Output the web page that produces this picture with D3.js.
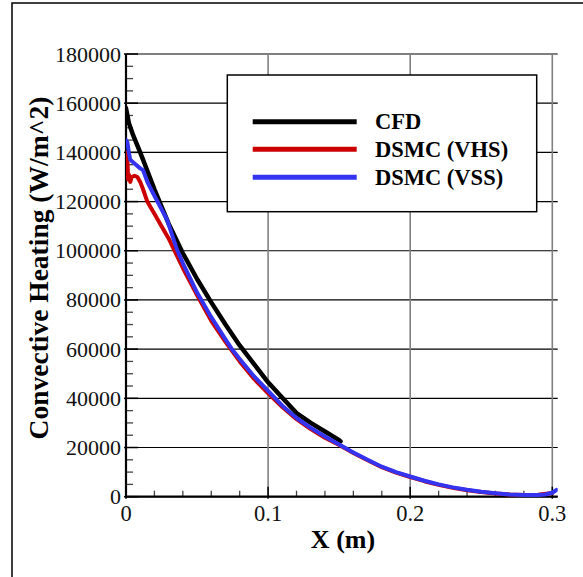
<!DOCTYPE html>
<html>
<head>
<meta charset="utf-8">
<script src="https://cdn.jsdelivr.net/npm/d3@7"></script>
<style>
  html, body { margin: 0; padding: 0; background: #fff; }
  svg { display: block; }
</style>
</head>
<body>
<svg id="chart" width="583" height="577"></svg>
<script>
// Convective heating along the surface: CFD vs. DSMC (VHS / VSS models)
const cfdX = [0, 0.002, 0.005, 0.01, 0.02, 0.03, 0.04, 0.05, 0.06, 0.07, 0.08, 0.09, 0.1, 0.11, 0.12, 0.13, 0.14, 0.15, 0.151];
const cfdQ = [158000, 152000, 147000, 140000, 125000, 111000, 99000, 88500, 79000, 70000, 61500, 54000, 46500, 40200, 34000, 30000, 26500, 23000, 22500];

const vhsX = [0, 0.0005, 0.001, 0.0015, 0.002, 0.003, 0.004, 0.006, 0.008, 0.01, 0.012, 0.015, 0.018, 0.02, 0.025, 0.03, 0.035, 0.04, 0.05, 0.06, 0.07, 0.08, 0.09, 0.1, 0.11, 0.12, 0.13, 0.14, 0.15, 0.16, 0.17, 0.18, 0.19, 0.2, 0.21, 0.22, 0.23, 0.24, 0.25, 0.26, 0.27, 0.28, 0.29, 0.3];
const vhsQ = [140000, 133000, 137000, 129000, 131000, 128000, 130000, 130500, 130000, 128000, 125000, 120000, 117000, 115000, 110000, 105000, 99000, 93000, 82000, 71500, 63000, 55000, 48000, 42000, 36500, 31500, 27500, 24000, 21000, 17800, 14800, 12000, 9800, 8000, 6300, 4800, 3600, 2600, 1900, 1300, 900, 700, 800, 1500];

const vssX = [0, 0.001, 0.002, 0.003, 0.006, 0.01, 0.012, 0.015, 0.019, 0.029, 0.036, 0.04, 0.05, 0.06, 0.07, 0.075, 0.08, 0.09, 0.1, 0.11, 0.12, 0.13, 0.14, 0.15, 0.16, 0.17, 0.18, 0.19, 0.2, 0.21, 0.22, 0.23, 0.24, 0.25, 0.26, 0.27, 0.28, 0.29, 0.295, 0.3, 0.303];
const vssQ = [145000, 144000, 140000, 137000, 135500, 133500, 132800, 128000, 123400, 112500, 100300, 95000, 83000, 73000, 64000, 59600, 56000, 49000, 43000, 37000, 32000, 28000, 24500, 21200, 18000, 15000, 12200, 10000, 8200, 6500, 5000, 3800, 2800, 2000, 1400, 900, 700, 700, 900, 1600, 2800];

const seriesNames = ["CFD", "DSMC (VHS)", "DSMC (VSS)"];
const seriesColors = ["#000000", "#cc0000", "#3333f0"];

const yMajorTicks = [0, 20000, 40000, 60000, 80000, 100000, 120000, 140000, 160000, 180000];
const xMajorTicks = [0, 0.1, 0.2, 0.3];
const xTickLabels = ["0", "0.1", "0.2", "0.3"];

const xTitle = "X (m)";
const yTitle = "Convective Heating (W/m^2)";

const svg = d3.select("#chart");
const serif = "'Liberation Serif', 'Times New Roman', serif";

const x = d3.scaleLinear().domain([0, 0.3038]).range([126, 557.7]);
const y = d3.scaleLinear().domain([0, 180000]).range([496.7, 54]);

// outer frame (left and top edges)
svg.append("path")
  .attr("d", "M12,577 L12,3 L583,3")
  .attr("fill", "none").attr("stroke", "#000").attr("stroke-width", 1.5);

// horizontal grid lines at major heat-flux ticks
svg.append("g").selectAll("line").data(yMajorTicks).join("line")
  .attr("x1", x.range()[0]).attr("x2", x.range()[1])
  .attr("y1", d => y(d)).attr("y2", d => y(d))
  .attr("stroke", "#000").attr("stroke-width", 1.2);

// vertical grid lines
svg.append("g").selectAll("line").data(xMajorTicks.filter(d => d > 0)).join("line")
  .attr("x1", d => x(d)).attr("x2", d => x(d))
  .attr("y1", y(0)).attr("y2", y(180000))
  .attr("stroke", "#808080").attr("stroke-width", 1.6);

// minor ticks on the Y axis (every 5000, pointing inward)
const yMinor = d3.range(0, 180001, 5000).filter(v => v % 20000 !== 0);
svg.append("g").selectAll("line").data(yMinor).join("line")
  .attr("x1", x(0)).attr("x2", x(0) + 7)
  .attr("y1", d => y(d)).attr("y2", d => y(d))
  .attr("stroke", "#444").attr("stroke-width", 1.3);
svg.append("g").selectAll("line").data(yMajorTicks).join("line")
  .attr("x1", x(0) - 2).attr("x2", x(0) + 12)
  .attr("y1", d => y(d)).attr("y2", d => y(d))
  .attr("stroke", "#000").attr("stroke-width", 1.5);

// minor ticks on the X axis (every 0.02, pointing up)
const xMinor = d3.range(1, 15).map(i => i * 0.02).filter(v => Math.abs(v * 10 - Math.round(v * 10)) > 1e-6);
svg.append("g").selectAll("line").data(xMinor).join("line")
  .attr("x1", d => x(d)).attr("x2", d => x(d))
  .attr("y1", y(0)).attr("y2", y(0) - 6)
  .attr("stroke", "#444").attr("stroke-width", 1.3);
svg.append("g").selectAll("line").data(xMajorTicks).join("line")
  .attr("x1", d => x(d)).attr("x2", d => x(d))
  .attr("y1", y(0) + 2).attr("y2", y(0) - 10)
  .attr("stroke", "#000").attr("stroke-width", 1.5);

// axis lines
svg.append("line").attr("x1", x(0)).attr("x2", x(0)).attr("y1", y(0) + 1).attr("y2", y(180000))
  .attr("stroke", "#000").attr("stroke-width", 2.2);
svg.append("line").attr("x1", x(0) - 1).attr("x2", x.range()[1]).attr("y1", y(0)).attr("y2", y(0))
  .attr("stroke", "#000").attr("stroke-width", 2.2);

// tick labels
svg.append("g").selectAll("text").data(yMajorTicks).join("text")
  .attr("x", x(0) - 5).attr("y", d => y(d) + 7.5)
  .attr("text-anchor", "end")
  .attr("font-family", serif).attr("font-size", 22).attr("fill", "#111")
  .text(d => String(d));
svg.append("g").selectAll("text").data(xMajorTicks).join("text")
  .attr("x", d => x(d)).attr("y", 521)
  .attr("text-anchor", "middle")
  .attr("font-family", serif).attr("font-size", 22.5).attr("fill", "#111")
  .text((d, i) => xTickLabels[i]);

// axis titles
svg.append("text")
  .attr("x", 343).attr("y", 548)
  .attr("text-anchor", "middle")
  .attr("font-family", serif).attr("font-weight", "bold").attr("font-size", 26)
  .text(xTitle);
svg.append("text")
  .attr("transform", "translate(48,268) rotate(-90)")
  .attr("text-anchor", "middle")
  .attr("font-family", serif).attr("font-weight", "bold").attr("font-size", 27.5)
  .text(yTitle);

// data curves
const series = [
  { xs: cfdX, qs: cfdQ },
  { xs: vhsX, qs: vhsQ },
  { xs: vssX, qs: vssQ }
];
const line = d3.line().x(d => x(d[0])).y(d => y(d[1]));
const clipId = "plotClip";
svg.append("clipPath").attr("id", clipId).append("rect")
  .attr("x", x(0)).attr("y", y(180000)).attr("width", x.range()[1] - x(0)).attr("height", y(0) - y(180000) + 3);
[0, 1, 2].forEach(i => {
  const s = series[i];
  svg.append("path")
    .datum(s.xs.map((v, j) => [v, s.qs[j]]))
    .attr("d", line)
    .attr("fill", "none")
    .attr("stroke", seriesColors[i])
    .attr("stroke-width", i === 0 ? 4.5 : 4)
    .attr("stroke-linejoin", "round")
    .attr("stroke-linecap", "round")
    .attr("clip-path", `url(#${clipId})`);
});

// legend
const legend = svg.append("g");
legend.append("rect")
  .attr("x", 227.3).attr("y", 75).attr("width", 309.4).attr("height", 136.7)
  .attr("fill", "#fff").attr("stroke", "#000").attr("stroke-width", 1.5);
const legendY = [121.7, 149.3, 177.3];
seriesNames.forEach((name, i) => {
  legend.append("line")
    .attr("x1", 252.7).attr("x2", 356.7)
    .attr("y1", legendY[i]).attr("y2", legendY[i])
    .attr("stroke", seriesColors[i]).attr("stroke-width", 5);
  legend.append("text")
    .attr("x", 375).attr("y", legendY[i] + 7.5)
    .attr("font-family", serif).attr("font-weight", "bold").attr("font-size", 22.5)
    .text(name);
});
</script>
</body>
</html>
